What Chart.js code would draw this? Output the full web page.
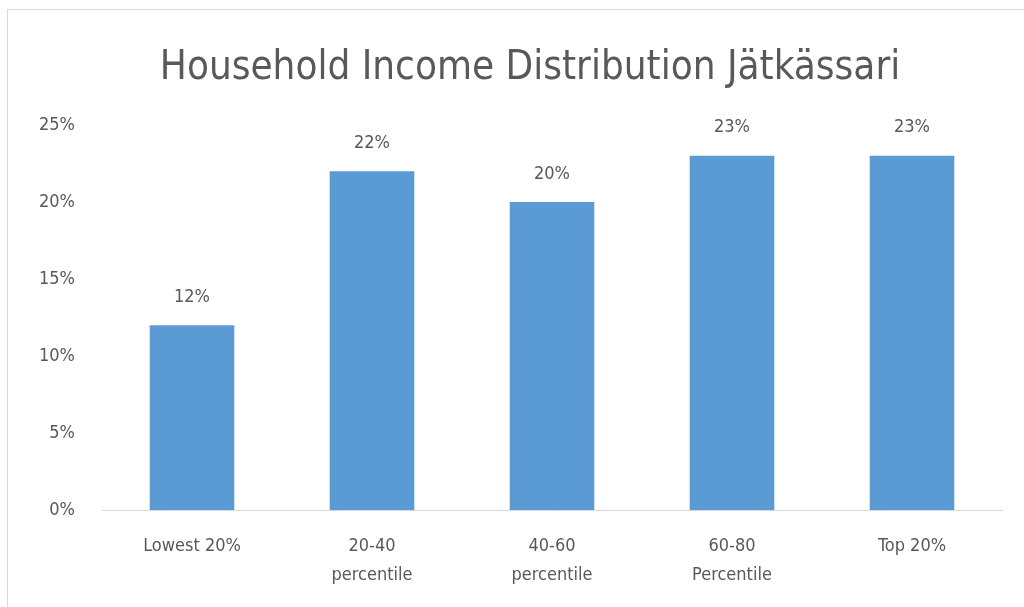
<!DOCTYPE html>
<html>
<head>
<meta charset="utf-8">
<script src="https://cdn.jsdelivr.net/npm/chart.js@4"></script>
<style>
  html, body { margin: 0; padding: 0; background: #fff; overflow: hidden; }
  #frame { position: absolute; left: 7px; top: 9px; width: 1060px; height: 620px; border: 1px solid #d9d9d9; }
  #wrap { position: absolute; left: 8px; top: 10px; width: 1044px; height: 597px; }
</style>
</head>
<body>
<div id="frame"></div>
<div id="wrap"><canvas id="incomeChart"></canvas></div>
<script>
const categories = ['Lowest 20%', ['20-40', 'percentile'], ['40-60', 'percentile'], ['60-80', 'Percentile'], 'Top 20%'];
const shares = [12, 22, 20, 23, 23];
const yTicks = [0, 5, 10, 15, 20, 25];

const FONT = "'Liberation Sans Narrow', 'DejaVu Sans Condensed', sans-serif";
const GREY = '#595959';

// labels above the bars
const barLabels = {
  id: 'barLabels',
  afterDatasetsDraw(chart) {
    const ctx = chart.ctx;
    const meta = chart.getDatasetMeta(0);
    ctx.save();
    ctx.font = '18px ' + FONT;
    ctx.fillStyle = GREY;
    ctx.textAlign = 'center';
    ctx.textBaseline = 'middle';
    meta.data.forEach((bar, i) => {
      ctx.fillText(shares[i] + '%', bar.x, bar.y - 28);
    });
    ctx.restore();
  }
};

const ctx = document.getElementById('incomeChart').getContext('2d');
new Chart(ctx, {
  type: 'bar',
  data: {
    labels: categories,
    datasets: [{
      data: shares,
      backgroundColor: '#5b9bd5',
      barPercentage: 0.47,
      categoryPercentage: 1
    }]
  },
  options: {
    responsive: true,
    maintainAspectRatio: false,
    animation: false,
    layout: { padding: 0 },
    plugins: {
      legend: { display: false },
      tooltip: { enabled: false },
      title: {
        display: true,
        text: 'Household Income Distribution Jätkässari',
        color: GREY,
        font: { family: FONT, size: 40, weight: 'normal' },
        padding: { top: 35, bottom: 32 }
      }
    },
    scales: {
      x: {
        grid: { display: false },
        border: { display: true, color: '#d9d9d9', width: 1 },
        ticks: {
          color: GREY,
          font: { family: FONT, size: 18, lineHeight: 1.65 },
          padding: 13,
          maxRotation: 0
        },
        afterFit(scale) { scale.height = 97; }
      },
      y: {
        min: 0,
        max: 25,
        grid: { display: false },
        border: { display: false },
        afterBuildTicks(scale) { scale.ticks = yTicks.map(v => ({ value: v })); },
        ticks: {
          color: GREY,
          font: { family: FONT, size: 18 },
          padding: 19,
          callback: v => v + '%'
        },
        afterFit(scale) { scale.width = 94; }
      },
      // empty right axis, only keeps the space right of the plot
      yRight: {
        position: 'right',
        min: 0,
        max: 25,
        grid: { display: false },
        border: { display: false },
        ticks: { display: false },
        afterFit(scale) { scale.width = 50; }
      }
    }
  },
  plugins: [barLabels]
});
</script>
</body>
</html>
